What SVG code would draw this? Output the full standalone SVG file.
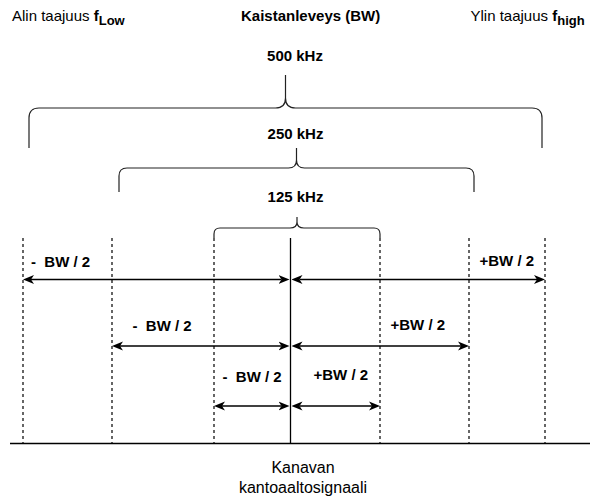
<svg xmlns="http://www.w3.org/2000/svg" width="590" height="496" viewBox="0 0 590 496">
  <style>
    .t { font-family: "Liberation Sans", Arial, sans-serif; fill: #000; }
    .reg { font-size: 15px; }
    .b { font-size: 15px; font-weight: bold; }
    .sub { font-size: 13px; font-weight: bold; }
    .foot { font-size: 16px; }
    .brace { fill: none; stroke: #222; stroke-width: 1.2; }
    .guide { stroke: #000; stroke-width: 1.2; stroke-dasharray: 3 3; }
    .axis { stroke: #000; stroke-width: 1.3; fill: none; }
    .arr { stroke: #000; stroke-width: 1.3; fill: none; marker-start: url(#ah); marker-end: url(#ah); }
  </style>
  <defs>
    <marker id="ah" viewBox="0 0 11 10" refX="3" refY="5" markerWidth="11" markerHeight="10" markerUnits="userSpaceOnUse" orient="auto-start-reverse">
      <path d="M0,0.5 L11,5 L0,9.5 L3,5 Z" fill="#000"/>
    </marker>
  </defs>
  <rect width="590" height="496" fill="#fff"/>

  <!-- heading labels -->
  <g id="label-low">
    <text class="t reg" x="12" y="21">Alin taajuus <tspan font-weight="bold">f</tspan><tspan class="sub" dy="4">Low</tspan></text>
  </g>
  <g id="label-bw">
    <text class="t b" x="241" y="21">Kaistanleveys (BW)</text>
  </g>
  <g id="label-high">
    <text class="t reg" x="470.5" y="21">Ylin taajuus <tspan font-weight="bold">f</tspan><tspan class="sub" dy="4">high</tspan></text>
  </g>

  <!-- bandwidth braces -->
  <g id="brace-500">
    <text class="t b" x="295" y="61" text-anchor="middle">500 kHz</text>
    <path class="brace" d="M29,148 V118 Q29,108 39,108 H275.5 Q285.5,108 285.5,98 V75 M285.5,98 Q285.5,108 295.5,108 H532 Q542,108 542,118 V148"/>
  </g>
  <g id="brace-250">
    <text class="t b" x="295.5" y="139" text-anchor="middle">250 kHz</text>
    <path class="brace" d="M119,192 V176 Q119,168 127,168 H288.5 Q296.5,168 296.5,160 V148 M296.5,160 Q296.5,168 304.5,168 H466 Q474,168 474,176 V192"/>
  </g>
  <g id="brace-125">
    <text class="t b" x="295.5" y="202" text-anchor="middle">125 kHz</text>
    <path class="brace" d="M214,238 V234 Q214,228 220,228 H290 Q297,228 297,222 V217 M297,222 Q297,228 304,228 H374 Q380,228 380,234 V238"/>
  </g>

  <!-- dashed band edges, carrier line and frequency axis -->
  <g id="guides">
    <line class="guide" x1="23" y1="238" x2="23" y2="443"/>
    <line class="guide" x1="112" y1="238" x2="112" y2="443"/>
    <line class="guide" x1="214" y1="238" x2="214" y2="443"/>
    <line class="guide" x1="380" y1="238" x2="380" y2="443"/>
    <line class="guide" x1="469" y1="238" x2="469" y2="443"/>
    <line class="guide" x1="545" y1="238" x2="545" y2="443"/>
  </g>
  <g id="carrier">
    <line class="axis" x1="290.5" y1="238" x2="290.5" y2="443.5"/>
  </g>
  <g id="axis">
    <line class="axis" x1="10" y1="443.5" x2="590" y2="443.5"/>
  </g>

  <!-- half-bandwidth labels -->
  <g id="half-labels">
    <text class="t b" x="31" y="267" xml:space="preserve">-  BW / 2</text>
    <text class="t b" x="479.5" y="266">+BW / 2</text>
    <text class="t b" x="132.5" y="331" xml:space="preserve">-  BW / 2</text>
    <text class="t b" x="390.5" y="329.5">+BW / 2</text>
    <text class="t b" x="222.5" y="382" xml:space="preserve">-  BW / 2</text>
    <text class="t b" x="313.5" y="380">+BW / 2</text>
  </g>

  <!-- double-headed span arrows (endpoints sit 8px inside the tips) -->
  <g id="connectors">
    <line class="arr" x1="31" y1="279.5" x2="281.5" y2="279.5"/>
    <line class="arr" x1="299.5" y1="279.5" x2="537" y2="279.5"/>
    <line class="arr" x1="120" y1="346" x2="281.5" y2="346"/>
    <line class="arr" x1="299.5" y1="346" x2="461" y2="346"/>
    <line class="arr" x1="222" y1="406" x2="281.5" y2="406"/>
    <line class="arr" x1="299.5" y1="406" x2="372" y2="406"/>
  </g>

  <g id="label-carrier">
    <text class="t foot" x="303" y="473" text-anchor="middle">Kanavan</text>
    <text class="t foot" x="303" y="493" text-anchor="middle">kantoaaltosignaali</text>
  </g>
</svg>
